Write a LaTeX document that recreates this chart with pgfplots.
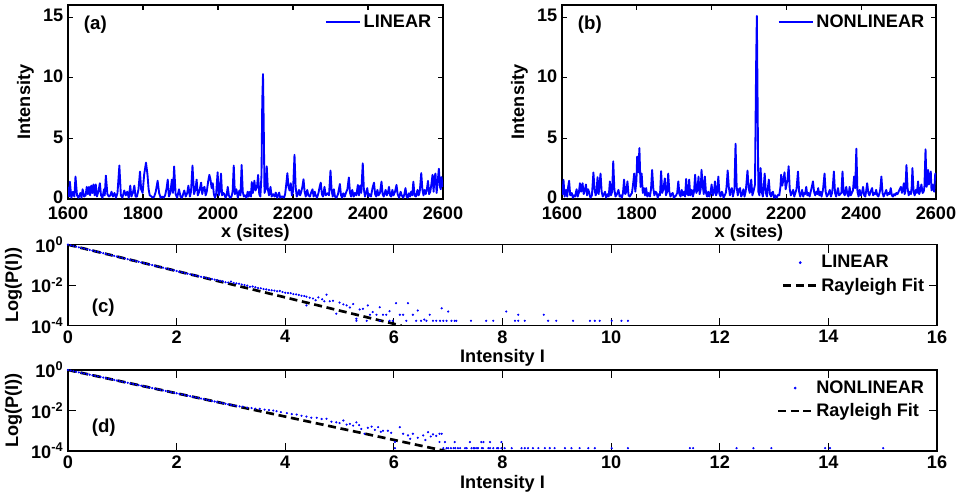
\documentclass[border=0pt]{standalone}
\usepackage{fontspec}
\setmainfont{Liberation Sans}
\usepackage{pgfplots}
\pgfplotsset{compat=1.18}
\newcommand\ff{\fontsize{13.6}{15}\selectfont\bfseries}
\newcommand\fp{\fontsize{14}{16}\selectfont\bfseries}
\pgfplotsset{
 mystyle/.style={scale only axis, axis line style={line width=0.9pt}, tick style={line width=0.8pt, black},
  tick align=inside, major tick length=4pt, tick label style={font=\ff}, label style={font=\ff},
  /pgf/number format/assume math mode=true, /pgf/number format/set thousands separator={},
  legend style={draw=none, fill=none, font=\ff, inner sep=1pt}, legend cell align=left},
 logstyle/.style={mystyle, xmin=0, xmax=16, ymin=1e-4, ymax=1, xtick={0,2,...,16},
  ytick={1e-4,1e-2,1}, yticklabels={10\textsuperscript{-4},10\textsuperscript{-2},10\textsuperscript{0}},
  yminorticks=false, major tick length=6pt, xlabel={Intensity I}, ylabel={Log(P(I))},
  width=651.75pt, height=60.75pt, xlabel style={yshift=2pt},
  legend style={at={(0.99,0.92)}, anchor=north east, row sep=2pt}},
 linstyle/.style={mystyle, width=281.25pt, height=145.5pt,
  xmin=1600, xmax=2600, ymin=0, ymax=16, xtick={1600,1800,...,2600}, ytick={0,5,10,15},
  xlabel={x (sites)}, ylabel={Intensity}, yticklabel style={yshift=1pt},
  xticklabel style={yshift=-2pt}, xlabel style={yshift=3pt},
  legend style={at={(0.98,0.97)}, anchor=north east}},
}
\begin{document}
\begin{tikzpicture}
% ---------------- (a)
\begin{axis}[linstyle, at={(51pt,-3.75pt)}, anchor=north west,
 legend image code/.code={\draw[#1] (0cm,0cm) -- (0.9cm,0cm);}]
\addplot[blue, line width=1.4pt, line join=round] coordinates {
(1600,1.0)(1603,0.2)(1605,1.43)(1609,0.1)(1613,0.6)(1617,0.2)(1620,1.85)(1624,0.3)(1628,0.1)(1633,0.5)
(1636,0.1)(1639,0.8)(1643,0.2)(1647,0.3)(1650,1.0)(1653,0.4)(1656,1.0)(1659,0.3)(1662,1.1)(1665,0.5)
(1668,1.2)(1671,0.3)(1674,1.2)(1677,0.2)(1681,0.6)(1685,1.3)(1688,0.3)(1692,0.1)(1696,0.8)(1698,0.3)
(1701,1.93)(1705,0.4)(1709,0.2)(1713,0.3)(1716,0.6)(1720,0.2)(1724,0.5)(1728,0.1)(1732,0.5)(1737,2.76)
(1741,0.3)(1745,0.1)(1750,0.7)(1754,0.3)(1758,0.6)(1762,0.1)(1766,1.1)(1769,0.2)(1773,0.5)(1777,1.1)
(1780,0.2)(1784,0.2)(1788,0.8)(1792,2.26)(1795,0.8)(1799,0.5)(1803,2.0)(1808,3.0)(1812,2.0)(1815,0.8)
(1818,0.3)(1821,0.25)(1826,0.1)(1830,0.2)(1834,0.6)(1839,1.5)(1843,0.5)(1847,0.1)(1851,0.2)(1855,0.1)
(1859,0.3)(1863,0.9)(1866,1.6)(1869,0.2)(1873,0.5)(1877,1.6)(1880,0.5)(1883,2.68)(1887,0.4)(1891,0.1)
(1896,0.8)(1900,0.2)(1904,0.1)(1907,0.4)(1910,0.7)(1914,0.2)(1918,0.5)(1921,1.1)(1925,0.2)(1928,0.6)
(1932,2.76)(1936,0.4)(1940,0.8)(1943,1.6)(1946,0.3)(1950,0.6)(1955,1.35)(1958,0.4)(1961,0.9)(1964,1.0)
(1967,0.3)(1970,0.6)(1974,1.5)(1977,1.99)(1980,1.6)(1983,0.9)(1986,1.3)(1989,0.4)(1992,0.1)(1995,0.4)
(1999,2.2)(2002,0.3)(2005,0.6)(2008,2.1)(2011,0.3)(2014,0.5)(2017,0.4)(2020,0.1)(2023,0.3)(2026,1.0)
(2029,0.3)(2032,0.1)(2036,0.2)(2039,0.6)(2042,2.76)(2045,0.4)(2049,0.8)(2053,0.1)(2057,0.7)(2060,0.3)
(2063,2.8)(2066,0.6)(2069,0.2)(2072,0.3)(2076,0.1)(2079,0.6)(2082,0.2)(2085,0.6)(2088,0.2)(2090,1.4)
(2093,0.5)(2097,1.5)(2100,0.7)(2104,1.0)(2107,1.99)(2110,0.4)(2113,0.2)(2116,2.0)(2118,8.0)(2120,10.3)
(2122,6.0)(2124,0.5)(2127,0.8)(2130,2.7)(2133,0.8)(2136,0.3)(2140,1.0)(2143,0.2)(2147,0.4)(2151,0.2)
(2154,0.53)(2158,0.1)(2163,0.53)(2166,0.1)(2169,0.2)(2172,0.2)(2176,0.1)(2179,0.4)(2182,1.2)(2185,2.13)
(2188,1.0)(2191,0.7)(2194,1.3)(2197,0.3)(2200,0.6)(2204,3.65)(2207,1.0)(2210,0.2)(2213,0.4)(2216,0.75)
(2219,0.3)(2222,0.6)(2225,1.0)(2228,1.63)(2231,0.6)(2234,0.2)(2238,0.75)(2241,0.3)(2245,0.2)(2248,0.5)
(2252,0.8)(2255,0.2)(2258,0.6)(2260,0.33)(2264,0.1)(2268,0.5)(2271,1.0)(2274,1.35)(2277,0.4)(2280,0.2)
(2284,1.0)(2287,0.3)(2292,0.47)(2296,0.3)(2300,2.35)(2303,0.7)(2306,0.2)(2309,0.8)(2312,0.2)(2316,0.1)
(2320,0.4)(2325,1.24)(2328,0.3)(2331,0.1)(2334,0.47)(2338,0.2)(2341,0.5)(2345,0.8)(2349,1.77)(2352,0.5)
(2355,0.2)(2358,0.75)(2362,0.2)(2365,0.5)(2369,0.3)(2373,1.16)(2376,0.3)(2379,1.1)(2382,0.5)(2386,2.95)
(2389,0.8)(2392,0.2)(2395,0.5)(2398,0.9)(2401,0.2)(2404,0.4)(2408,0.2)(2412,0.9)(2416,1.35)(2419,0.4)
(2422,0.2)(2425,0.75)(2428,0.3)(2432,0.5)(2436,1.43)(2439,0.4)(2442,0.2)(2447,0.75)(2450,0.3)(2453,0.5)
(2456,1.0)(2459,0.3)(2462,0.2)(2465,0.75)(2468,0.3)(2472,0.6)(2476,1.16)(2479,0.4)(2483,0.1)(2487,0.6)
(2490,0.3)(2494,0.1)(2497,0.4)(2500,0.9)(2503,0.2)(2506,0.1)(2509,0.47)(2512,0.2)(2515,0.6)(2518,0.3)
(2521,1.43)(2524,0.3)(2528,0.2)(2532,0.75)(2535,0.3)(2538,0.6)(2542,2.13)(2545,0.8)(2548,0.3)(2551,0.75)
(2554,0.4)(2557,0.8)(2560,1.5)(2563,0.4)(2566,0.6)(2569,1.2)(2572,1.99)(2575,0.6)(2577,1.8)(2580,2.1)
(2583,0.5)(2586,1.5)(2589,2.5)(2592,1.0)(2594,0.8)(2596,1.8)(2598,1.3)(2600,1.0)};
\addlegendentry{LINEAR}
\node[anchor=west, font=\fp] at (axis description cs:0.03,0.9) {(a)};
\end{axis}
% ---------------- (b)
\begin{axis}[linstyle, width=280.5pt, at={(421.5pt,-3.75pt)}, anchor=north west,
 legend image code/.code={\draw[#1] (0cm,0cm) -- (0.9cm,0cm);}]
\addplot[blue, line width=1.4pt, line join=round] coordinates {
(1600,1.2)(1602,0.4)(1604,1.58)(1607,0.2)(1609,0.5)(1611,0.75)(1614,0.2)(1616,0.9)(1619,1.5)(1622,0.3)
(1626,0.5)(1629,0.1)(1632,0.3)(1635,0.2)(1639,0.8)(1642,0.2)(1645,0.5)(1648,1.3)(1651,0.6)(1655,1.3)
(1658,0.4)(1661,0.7)(1664,1.2)(1667,0.3)(1670,0.8)(1673,0.5)(1676,0.1)(1680,0.3)(1684,2.19)(1687,0.8)
(1690,0.3)(1692,0.5)(1695,1.8)(1698,0.4)(1703,2.1)(1706,0.6)(1709,0.2)(1712,0.4)(1715,0.6)(1718,0.1)
(1722,0.4)(1725,0.2)(1728,1.45)(1731,0.3)(1734,0.6)(1737,3.1)(1740,0.8)(1743,0.2)(1747,0.4)(1751,0.75)
(1754,0.2)(1757,0.3)(1760,0.1)(1763,0.5)(1766,1.6)(1769,0.4)(1772,0.6)(1775,1.45)(1778,0.3)(1781,0.2)
(1784,0.35)(1787,0.5)(1790,1.2)(1793,2.1)(1796,0.6)(1799,1.5)(1801,3.5)(1804,2.2)(1807,4.2)(1810,1.0)
(1813,2.1)(1816,0.5)(1819,0.9)(1822,0.3)(1825,0.9)(1828,0.2)(1831,0.5)(1835,0.2)(1838,0.8)(1841,2.4)
(1844,0.9)(1847,0.3)(1850,0.6)(1853,0.5)(1856,0.1)(1859,0.4)(1862,0.3)(1865,2.3)(1868,0.5)(1871,0.8)
(1875,1.7)(1878,0.3)(1881,0.6)(1884,2.1)(1887,0.6)(1890,0.2)(1893,0.4)(1896,0.5)(1899,0.1)(1902,0.2)
(1905,0.3)(1908,0.5)(1911,1.45)(1914,0.4)(1917,0.2)(1920,0.75)(1923,0.3)(1926,0.6)(1929,0.2)(1932,1.65)
(1935,0.4)(1938,0.3)(1940,1.6)(1943,0.3)(1947,0.75)(1950,0.2)(1953,0.6)(1956,2.0)(1959,0.5)(1962,0.7)
(1965,1.85)(1968,0.4)(1971,0.8)(1973,2.4)(1976,1.2)(1979,0.4)(1982,1.85)(1985,0.5)(1988,0.2)(1991,0.6)
(1994,0.2)(1997,0.5)(2000,1.2)(2003,0.3)(2006,0.5)(2009,1.45)(2012,0.3)(2015,0.6)(2018,1.85)(2021,0.4)
(2024,0.2)(2027,0.6)(2029,0.5)(2032,0.1)(2035,0.3)(2038,0.5)(2040,1.0)(2043,2.35)(2046,1.0)(2049,0.3)
(2051,0.7)(2054,0.9)(2057,0.2)(2061,0.8)(2064,4.56)(2067,1.0)(2070,0.3)(2073,0.8)(2076,0.9)(2079,0.2)
(2082,0.4)(2085,0.8)(2088,0.2)(2091,0.6)(2093,1.2)(2096,2.35)(2099,0.9)(2102,0.5)(2106,1.6)(2109,0.3)
(2113,0.75)(2116,1.2)(2119,11.0)(2121,15.1)(2123,8.0)(2125,0.6)(2128,0.3)(2131,2.55)(2134,0.6)(2137,0.2)
(2139,0.9)(2142,2.1)(2145,0.5)(2148,0.2)(2150,0.8)(2153,1.6)(2156,0.4)(2159,0.2)(2161,0.5)(2164,0.6)
(2167,0.1)(2170,0.3)(2174,0.1)(2178,0.35)(2181,0.3)(2184,1.0)(2186,2.0)(2189,1.1)(2192,1.6)(2195,2.2)
(2198,0.8)(2201,1.3)(2203,1.6)(2206,2.7)(2209,0.8)(2212,0.3)(2215,0.5)(2218,0.75)(2221,0.2)(2224,0.5)
(2227,0.8)(2231,2.27)(2234,0.6)(2237,0.2)(2240,0.5)(2242,0.75)(2245,0.2)(2248,0.5)(2250,0.4)(2253,1.0)
(2256,0.3)(2259,0.5)(2262,0.2)(2265,0.6)(2268,1.0)(2271,1.45)(2274,0.6)(2277,0.3)(2280,0.6)(2283,0.4)
(2285,0.9)(2288,0.3)(2291,0.6)(2294,0.2)(2298,0.8)(2302,2.1)(2305,0.6)(2308,0.2)(2312,0.4)(2316,0.75)
(2319,0.2)(2322,0.5)(2324,1.0)(2327,2.27)(2330,0.5)(2333,0.2)(2335,0.5)(2338,0.9)(2341,0.3)(2344,0.4)
(2347,0.5)(2350,2.27)(2353,0.5)(2356,0.3)(2360,1.0)(2363,0.4)(2366,0.2)(2369,1.0)(2372,0.3)(2375,0.5)
(2378,0.7)(2381,1.85)(2384,0.9)(2387,4.15)(2390,0.6)(2393,0.2)(2396,0.75)(2399,0.3)(2402,0.5)(2405,1.0)
(2408,0.3)(2411,0.2)(2413,0.6)(2416,1.3)(2419,0.5)(2422,0.3)(2425,0.6)(2429,0.9)(2432,0.3)(2435,0.5)
(2437,0.4)(2440,0.75)(2443,0.3)(2446,0.2)(2449,0.5)(2451,0.8)(2454,1.85)(2457,0.5)(2460,0.2)(2464,0.5)
(2467,0.75)(2470,0.3)(2473,0.5)(2476,0.4)(2479,0.9)(2482,0.3)(2485,0.2)(2488,0.4)(2491,0.3)(2494,0.5)
(2497,0.4)(2500,0.6)(2503,0.8)(2506,1.0)(2509,0.5)(2512,0.9)(2514,1.3)(2516,0.4)(2518,0.6)(2521,2.8)
(2524,0.9)(2527,0.3)(2530,0.6)(2533,0.4)(2535,1.0)(2537,2.55)(2540,0.6)(2543,0.3)(2546,0.75)(2549,0.5)
(2552,1.45)(2555,0.4)(2558,0.7)(2561,1.2)(2564,0.5)(2567,0.6)(2569,1.0)(2572,4.1)(2575,1.0)(2577,1.5)
(2579,2.4)(2581,1.2)(2583,1.6)(2586,2.27)(2588,0.7)(2590,1.2)(2592,1.0)(2595,0.6)(2598,2.1)(2600,1.9)};
\addlegendentry{NONLINEAR}
\node[anchor=west, font=\fp] at (axis description cs:0.03,0.9) {(b)};
\end{axis}
% ---------------- (c)
\begin{axis}[ymode=log, logstyle, at={(51pt,-183.5pt)}, anchor=north west,
 legend image code/.code={\draw[#1] (0cm,0cm) -- (0.9cm,0cm);}]
\addplot[only marks, mark=*, mark size=0.6pt, blue,
 legend image code/.code={\fill[blue] (0.45cm,0cm) circle (0.8pt);}] coordinates {
(0,1.0)(0.05,0.93)(0.1,0.86)(0.15,0.80)(0.2,0.74)(0.25,0.69)(0.3,0.64)(0.35,0.59)(0.4,0.55)(0.45,0.51)
(0.5,0.47)(0.55,0.44)(0.6,0.41)(0.65,0.38)(0.7,0.35)(0.75,0.325)(0.8,0.30)(0.85,0.28)(0.9,0.26)(0.95,0.24)
(1.0,0.223)(1.05,0.207)(1.1,0.192)(1.15,0.178)(1.2,0.166)(1.25,0.154)(1.3,0.143)(1.35,0.132)(1.4,0.123)(1.45,0.114)
(1.5,0.106)(1.55,0.098)(1.6,0.091)(1.65,0.084)(1.7,0.078)(1.75,0.073)(1.8,0.067)(1.85,0.063)(1.9,0.058)(1.95,0.054)
(2.0,0.050)(2.05,0.046)(2.1,0.043)(2.15,0.040)(2.2,0.037)(2.25,0.0345)(2.3,0.032)(2.35,0.030)(2.4,0.028)(2.45,0.026)
(2.5,0.0245)(2.55,0.0228)(2.6,0.0213)(2.65,0.0200)(2.7,0.0188)(2.75,0.0176)(2.8,0.0165)(2.85,0.0156)(2.9,0.0140)(2.95,0.0135)
(3.0,0.0150)(3.05,0.0128)(3.1,0.0122)(3.15,0.0118)(3.2,0.0108)(3.25,0.0102)(3.3,0.0095)(3.35,0.0083)(3.4,0.0086)(3.45,0.0079)
(3.5,0.0072)(3.55,0.0070)(3.6,0.0064)(3.65,0.0062)(3.7,0.0058)(3.75,0.0056)(3.8,0.0054)(3.85,0.0050)(3.9,0.0052)(3.95,0.0046)
(4.0,0.0042)(4.05,0.0041)(4.1,0.0040)(4.15,0.0036)(4.2,0.0035)(4.25,0.0033)(4.3,0.0030)(4.35,0.0029)(4.39,0.0027)(4.39,0.0010)
(4.45,0.0024)(4.51,0.0022)(4.56,0.0018)(4.61,0.0025)(4.68,0.0020)(4.76,0.0034)(4.72,0.0016)(4.82,0.0016)(4.88,0.0017)(4.94,0.00039)
(5.0,0.00138)(5.07,0.00112)(5.13,0.0010)(5.19,0.00079)(5.25,0.00117)(5.31,0.00022)(5.31,0.000174)(5.37,0.00063)(5.43,0.00068)(5.5,0.000174)
(5.52,0.0010)(5.56,0.000347)(5.61,0.00047)(5.68,0.000347)(5.74,0.00081)(5.74,0.000174)(5.8,0.000347)(5.86,0.000347)(5.92,0.00052)(5.92,0.000174)
(5.98,0.000174)(6.04,0.00129)(6.11,0.000347)(6.17,0.000347)(6.23,0.000174)(6.26,0.00129)(6.35,0.000347)(6.41,0.000174)(6.44,0.00056)(6.5,0.000174)
(6.56,0.00020)(6.6,0.000174)(6.66,0.000347)(6.72,0.000174)(6.78,0.000174)(6.85,0.000174)(6.88,0.00072)(6.91,0.000174)(6.97,0.000174)(7.0,0.0005)
(7.06,0.000174)(7.12,0.000174)(7.15,0.000174)(7.42,0.000174)(7.7,0.000174)(7.83,0.000174)(8.07,0.0005)(8.23,0.000174)(8.29,0.000347)(8.29,0.000174)
(8.41,0.000174)(8.76,0.000347)(8.84,0.000174)(8.99,0.000174)(9.3,0.000174)(9.61,0.000174)(9.7,0.000174)(9.79,0.000174)(10.01,0.000174)(10.19,0.000174)
(10.31,0.000174)};
\addlegendentry{LINEAR}
\addplot[black, line width=2pt, dash pattern=on 6pt off 3.5pt] coordinates {(0,1)(2,0.0499)(4,0.00249)(6.14,0.0001)};
\addlegendentry{Rayleigh Fit}
\node[anchor=west, font=\fp] at (axis description cs:0.022,0.225) {(c)};
\end{axis}
% ---------------- (d)
\begin{axis}[ymode=log, logstyle, at={(51pt,-277.5pt)}, anchor=north west,
 legend image code/.code={\draw[#1] (0cm,0cm) -- (0.9cm,0cm);}]
\addplot[only marks, mark=*, mark size=0.6pt, blue,
 legend image code/.code={\fill[blue] (0.45cm,0cm) circle (0.8pt);}] coordinates {
(0,1.0)(0.05,0.936)(0.1,0.876)(0.15,0.82)(0.2,0.767)(0.25,0.718)(0.3,0.672)(0.35,0.629)(0.4,0.589)(0.45,0.551)
(0.5,0.516)(0.55,0.483)(0.6,0.452)(0.65,0.423)(0.7,0.396)(0.75,0.37)(0.8,0.346)(0.85,0.324)(0.9,0.303)(0.95,0.284)
(1.0,0.266)(1.05,0.249)(1.1,0.233)(1.15,0.218)(1.2,0.204)(1.25,0.191)(1.3,0.179)(1.35,0.167)(1.4,0.156)(1.45,0.146)
(1.5,0.137)(1.55,0.128)(1.6,0.12)(1.65,0.112)(1.7,0.105)(1.75,0.0984)(1.8,0.0921)(1.85,0.0862)(1.9,0.0807)(1.95,0.0755)
(2.0,0.0707)(2.05,0.0661)(2.1,0.0619)(2.15,0.058)(2.2,0.0542)(2.25,0.0508)(2.3,0.0475)(2.35,0.0445)(2.4,0.0416)(2.45,0.039)
(2.5,0.0364)(2.55,0.034)(2.6,0.0319)(2.65,0.0298)(2.7,0.0279)(2.75,0.0262)(2.8,0.0245)(2.85,0.0229)(2.9,0.0215)(2.95,0.0201)
(3.0,0.019)(3.05,0.0178)(3.1,0.0168)(3.16,0.0160)(3.22,0.0155)(3.3,0.0138)(3.38,0.0132)(3.45,0.0123)(3.53,0.0120)(3.62,0.0110)
(3.7,0.0105)(3.78,0.0100)(3.84,0.0093)(3.92,0.0083)(4.03,0.0074)(4.12,0.0066)(4.21,0.0063)(4.3,0.0055)(4.39,0.0050)(4.48,0.0044)
(4.58,0.0044)(4.67,0.0038)(4.76,0.0039)(4.85,0.0028)(4.94,0.0026)(5.0,0.0024)(5.07,0.0032)(5.13,0.0020)(5.19,0.0022)(5.25,0.0018)
(5.31,0.0026)(5.36,0.0019)(5.4,0.00123)(5.46,0.00071)(5.52,0.0014)(5.59,0.0016)(5.65,0.0011)(5.71,0.0015)(5.76,0.00089)(5.8,0.0010)
(5.89,0.0010)(5.95,0.00079)(6.02,0.00028)(6.02,0.000138)(6.11,0.0015)(6.17,0.00071)(6.26,0.00059)(6.3,0.0004)(6.35,0.00071)(6.44,0.00045)
(6.54,0.00059)(6.58,0.00035)(6.63,0.00085)(6.68,0.00052)(6.72,0.00066)(6.78,0.00056)(6.84,0.00071)(6.84,0.00028)(6.88,0.00071)(6.91,0.000138)
(6.94,0.000276)(6.97,0.000138)(7.0,0.000138)(7.05,0.000138)(7.1,0.000138)(7.12,0.000276)(7.13,0.000138)(7.18,0.000138)(7.22,0.000138)(7.31,0.000138)
(7.34,0.000138)(7.4,0.000276)(7.43,0.000138)(7.47,0.000138)(7.49,0.000138)(7.53,0.000138)(7.55,0.000138)(7.61,0.000276)(7.62,0.000138)(7.64,0.000138)
(7.65,0.000276)(7.74,0.000138)(7.77,0.000276)(7.77,0.000138)(7.83,0.000138)(7.9,0.000138)(7.92,0.000138)(7.98,0.000276)(7.98,0.000138)(8.04,0.000138)
(8.17,0.000138)(8.35,0.000138)(8.41,0.000138)(8.47,0.000138)(8.56,0.000138)(8.66,0.000138)(8.78,0.000138)(8.87,0.000138)(8.96,0.000138)(9.15,0.000138)
(9.27,0.000138)(9.42,0.000138)(9.58,0.000138)(9.7,0.000138)(10.01,0.000138)(10.31,0.000138)(11.45,0.000138)(11.51,0.000138)(12.31,0.000138)(12.62,0.000138)
(12.95,0.000138)(13.94,0.000138)(14.03,0.000138)(15.01,0.000138)};
\addlegendentry{NONLINEAR}
\addplot[black, line width=2pt, dash pattern=on 6pt off 3.5pt] coordinates {(0,1)(2,0.0707)(4,0.005)(6.95,0.0001)};
\addlegendentry{Rayleigh Fit}
\node[anchor=west, font=\fp] at (axis description cs:0.022,0.29) {(d)};
\end{axis}
\pgfresetboundingbox
\path[use as bounding box] (0,0) rectangle (718.5pt,-371.25pt);
\end{tikzpicture}
\end{document}
